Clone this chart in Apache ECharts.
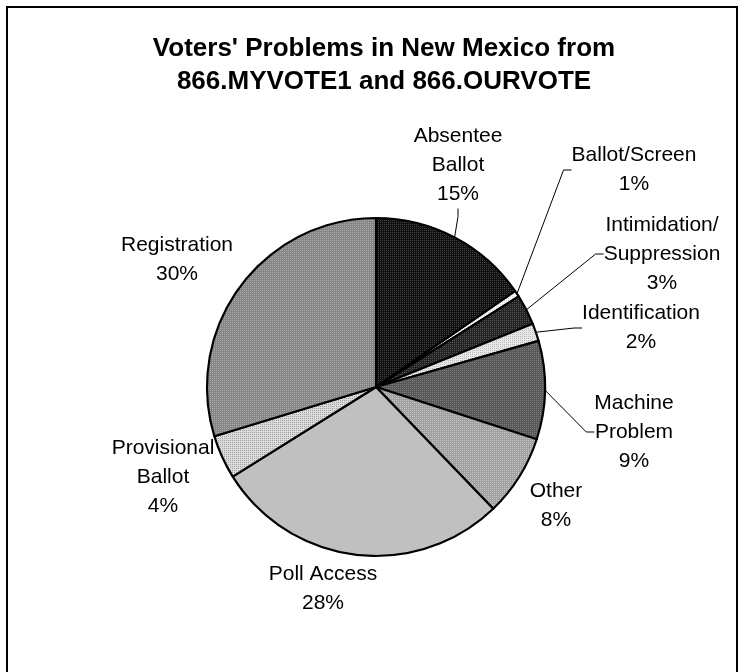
<!DOCTYPE html>
<html>
<head>
<meta charset="utf-8">
<script src="https://cdn.jsdelivr.net/npm/echarts@6/dist/echarts.min.js"></script>
<style>
html,body{margin:0;padding:0;background:#fff;}
#chart{width:740px;height:672px;}
</style>
</head>
<body>
<div id="chart"></div>
<script>
// ---- data ----
const titleLines = ["Voters' Problems in New Mexico from", "866.MYVOTE1 and 866.OURVOTE"];
const categories = ["Absentee\nBallot", "Ballot/Screen", "Intimidation/\nSuppression", "Identification", "Machine\nProblem", "Other", "Poll Access", "Provisional\nBallot", "Registration"];
const values = [15.4, 0.6, 2.9, 1.7, 9.4, 7.8, 28.3, 4.2, 29.7];

// ---- styles ----
const labelPos = [[458,165],[634,170],[662,254],[641,328],[634,432],[556,506],[323,589],[163,477],[177,260]];
const showLeader = [true, true, true, true, true, false, false, false, false];
function pattern(base, dot) {
  const c = document.createElement('canvas');
  c.width = 2; c.height = 2;
  const g = c.getContext('2d');
  g.fillStyle = base; g.fillRect(0,0,2,2);
  g.fillStyle = dot; g.fillRect(0,0,1,1);
  return {image: c, repeat: 'repeat'};
}
const fills = [
  pattern('#101010', '#444444'),
  pattern('#ffffff', '#cfcfcf'),
  pattern('#222222', '#555555'),
  pattern('#e8e8e8', '#b8b8b8'),
  pattern('#585858', '#7c7c7c'),
  pattern('#a0a0a0', '#c4c4c4'),
  '#c0c0c0',
  pattern('#dcdcdc', '#a0a0a0'),
  pattern('#868686', '#ababab')
];

const chart = echarts.init(document.getElementById('chart'), null, {renderer: 'canvas'});
const data = categories.map((name, i) => ({
  name: name,
  value: values[i],
  itemStyle: {color: fills[i]},
  labelLine: {show: showLeader[i]}
}));

chart.setOption({
  animation: false,
  backgroundColor: '#ffffff',
  graphic: [{
    type: 'rect',
    shape: {x: 7, y: 7, width: 730, height: 700},
    style: {fill: 'none', stroke: '#000', lineWidth: 2},
    silent: true
  }],
  title: {
    text: titleLines.join('\n'),
    left: 379,
    top: 27,
    textAlign: 'center',
    textStyle: {fontFamily: 'Liberation Sans, Arial, sans-serif', fontWeight: 'bold', fontSize: 26, lineHeight: 33, color: '#000'}
  },
  series: [{
    type: 'pie',
    center: [376, 387],
    radius: [0, 169],
    startAngle: 90,
    clockwise: true,
    avoidLabelOverlap: false,
    data: data,
    itemStyle: {borderColor: '#000', borderWidth: 2.2},
    emphasis: {disabled: true},
    label: {
      show: true,
      position: 'outside',
      fontFamily: 'Liberation Sans, Arial, sans-serif',
      fontSize: 21,
      lineHeight: 29,
      color: '#000',
      align: 'center',
      formatter: p => p.name + '\n' + Math.round(p.percent) + '%'
    },
    labelLine: {show: true, length: 10, length2: 8, smooth: false, lineStyle: {color: '#000', width: 1}},
    labelLayout: function (p) {
      const pos = labelPos[p.dataIndex];
      return {x: pos[0], y: pos[1], align: 'center', verticalAlign: 'middle'};
    }
  }]
});
</script>
</body>
</html>
